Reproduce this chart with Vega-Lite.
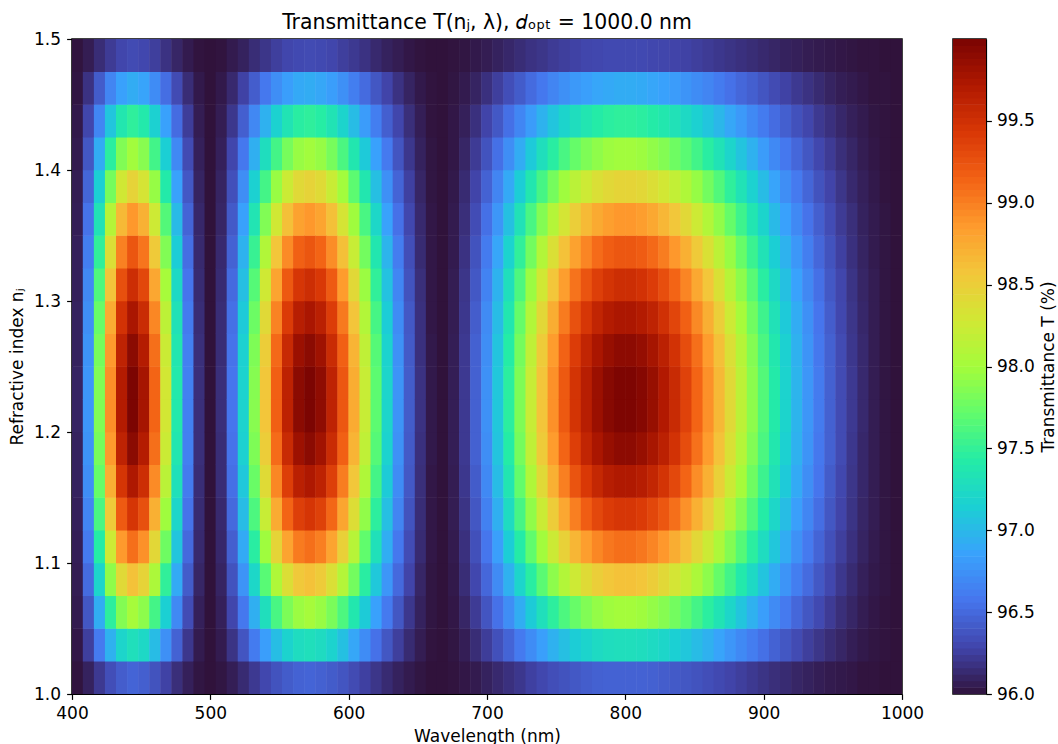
{"$schema":"https://vega.github.io/schema/vega-lite/v6.json","padding":{"left":7,"top":11,"right":0,"bottom":0},"background":"white","config":{"font":"DejaVu Sans","view":{"stroke":"black","strokeWidth":1.5},"axis":{"labelFont":"DejaVu Sans","titleFont":"DejaVu Sans","labelFontSize":17,"titleFontSize":17,"labelColor":"black","titleColor":"black","tickColor":"black","domainColor":"black","titleFontWeight":"normal","grid":false,"tickSize":5.4,"tickWidth":1.2,"domainWidth":1.2}},"spacing":27,"hconcat":[{"width":830,"height":655,"title":{"text":"Transmittance T(nⱼ, λ),  𝑑ₒₚₜ = 1000.0 nm","font":"DejaVu Sans","fontSize":20.4,"fontWeight":"normal","color":"black","anchor":"middle","offset":-3},"data":{"values":[
{"w":404,"n":1.0125,"t":96.01},{"w":404,"n":1.0375,"t":96.03},{"w":404,"n":1.0625,"t":96.05},{"w":404,"n":1.0875,"t":96.06},{"w":404,"n":1.1125,"t":96.07},{"w":404,"n":1.1375,"t":96.08},{"w":404,"n":1.1625,"t":96.09},{"w":404,"n":1.1875,"t":96.09},{"w":404,"n":1.2125,"t":96.1},{"w":404,"n":1.2375,"t":96.1},{"w":404,"n":1.2625,"t":96.09},{"w":404,"n":1.2875,"t":96.09},{"w":404,"n":1.3125,"t":96.08},{"w":404,"n":1.3375,"t":96.08},{"w":404,"n":1.3625,"t":96.07},{"w":404,"n":1.3875,"t":96.06},{"w":404,"n":1.4125,"t":96.05},{"w":404,"n":1.4375,"t":96.04},{"w":404,"n":1.4625,"t":96.02},{"w":404,"n":1.4875,"t":96.01},
{"w":412,"n":1.0125,"t":96.09},{"w":412,"n":1.0375,"t":96.25},{"w":412,"n":1.0625,"t":96.39},{"w":412,"n":1.0875,"t":96.51},{"w":412,"n":1.1125,"t":96.6},{"w":412,"n":1.1375,"t":96.67},{"w":412,"n":1.1625,"t":96.73},{"w":412,"n":1.1875,"t":96.76},{"w":412,"n":1.2125,"t":96.78},{"w":412,"n":1.2375,"t":96.78},{"w":412,"n":1.2625,"t":96.76},{"w":412,"n":1.2875,"t":96.73},{"w":412,"n":1.3125,"t":96.69},{"w":412,"n":1.3375,"t":96.63},{"w":412,"n":1.3625,"t":96.56},{"w":412,"n":1.3875,"t":96.48},{"w":412,"n":1.4125,"t":96.39},{"w":412,"n":1.4375,"t":96.29},{"w":412,"n":1.4625,"t":96.18},{"w":412,"n":1.4875,"t":96.06},
{"w":420,"n":1.0125,"t":96.22},{"w":420,"n":1.0375,"t":96.6},{"w":420,"n":1.0625,"t":96.93},{"w":420,"n":1.0875,"t":97.2},{"w":420,"n":1.1125,"t":97.43},{"w":420,"n":1.1375,"t":97.6},{"w":420,"n":1.1625,"t":97.73},{"w":420,"n":1.1875,"t":97.81},{"w":420,"n":1.2125,"t":97.85},{"w":420,"n":1.2375,"t":97.85},{"w":420,"n":1.2625,"t":97.81},{"w":420,"n":1.2875,"t":97.74},{"w":420,"n":1.3125,"t":97.63},{"w":420,"n":1.3375,"t":97.49},{"w":420,"n":1.3625,"t":97.33},{"w":420,"n":1.3875,"t":97.14},{"w":420,"n":1.4125,"t":96.92},{"w":420,"n":1.4375,"t":96.68},{"w":420,"n":1.4625,"t":96.42},{"w":420,"n":1.4875,"t":96.15},
{"w":428,"n":1.0125,"t":96.34},{"w":428,"n":1.0375,"t":96.95},{"w":428,"n":1.0625,"t":97.47},{"w":428,"n":1.0875,"t":97.91},{"w":428,"n":1.1125,"t":98.26},{"w":428,"n":1.1375,"t":98.53},{"w":428,"n":1.1625,"t":98.73},{"w":428,"n":1.1875,"t":98.86},{"w":428,"n":1.2125,"t":98.92},{"w":428,"n":1.2375,"t":98.92},{"w":428,"n":1.2625,"t":98.86},{"w":428,"n":1.2875,"t":98.75},{"w":428,"n":1.3125,"t":98.58},{"w":428,"n":1.3375,"t":98.37},{"w":428,"n":1.3625,"t":98.11},{"w":428,"n":1.3875,"t":97.8},{"w":428,"n":1.4125,"t":97.46},{"w":428,"n":1.4375,"t":97.08},{"w":428,"n":1.4625,"t":96.67},{"w":428,"n":1.4875,"t":96.23},
{"w":436,"n":1.0125,"t":96.43},{"w":436,"n":1.0375,"t":97.2},{"w":436,"n":1.0625,"t":97.86},{"w":436,"n":1.0875,"t":98.41},{"w":436,"n":1.1125,"t":98.86},{"w":436,"n":1.1375,"t":99.2},{"w":436,"n":1.1625,"t":99.46},{"w":436,"n":1.1875,"t":99.62},{"w":436,"n":1.2125,"t":99.7},{"w":436,"n":1.2375,"t":99.7},{"w":436,"n":1.2625,"t":99.62},{"w":436,"n":1.2875,"t":99.48},{"w":436,"n":1.3125,"t":99.27},{"w":436,"n":1.3375,"t":98.99},{"w":436,"n":1.3625,"t":98.66},{"w":436,"n":1.3875,"t":98.28},{"w":436,"n":1.4125,"t":97.85},{"w":436,"n":1.4375,"t":97.37},{"w":436,"n":1.4625,"t":96.85},{"w":436,"n":1.4875,"t":96.29},
{"w":444,"n":1.0125,"t":96.47},{"w":444,"n":1.0375,"t":97.3},{"w":444,"n":1.0625,"t":98.01},{"w":444,"n":1.0875,"t":98.6},{"w":444,"n":1.1125,"t":99.08},{"w":444,"n":1.1375,"t":99.46},{"w":444,"n":1.1625,"t":99.73},{"w":444,"n":1.1875,"t":99.91},{"w":444,"n":1.2125,"t":99.99},{"w":444,"n":1.2375,"t":99.99},{"w":444,"n":1.2625,"t":99.91},{"w":444,"n":1.2875,"t":99.75},{"w":444,"n":1.3125,"t":99.52},{"w":444,"n":1.3375,"t":99.23},{"w":444,"n":1.3625,"t":98.87},{"w":444,"n":1.3875,"t":98.46},{"w":444,"n":1.4125,"t":97.99},{"w":444,"n":1.4375,"t":97.48},{"w":444,"n":1.4625,"t":96.92},{"w":444,"n":1.4875,"t":96.32},
{"w":452,"n":1.0125,"t":96.44},{"w":452,"n":1.0375,"t":97.23},{"w":452,"n":1.0625,"t":97.9},{"w":452,"n":1.0875,"t":98.46},{"w":452,"n":1.1125,"t":98.91},{"w":452,"n":1.1375,"t":99.27},{"w":452,"n":1.1625,"t":99.52},{"w":452,"n":1.1875,"t":99.69},{"w":452,"n":1.2125,"t":99.77},{"w":452,"n":1.2375,"t":99.77},{"w":452,"n":1.2625,"t":99.69},{"w":452,"n":1.2875,"t":99.54},{"w":452,"n":1.3125,"t":99.33},{"w":452,"n":1.3375,"t":99.05},{"w":452,"n":1.3625,"t":98.71},{"w":452,"n":1.3875,"t":98.32},{"w":452,"n":1.4125,"t":97.88},{"w":452,"n":1.4375,"t":97.4},{"w":452,"n":1.4625,"t":96.87},{"w":452,"n":1.4875,"t":96.3},
{"w":460,"n":1.0125,"t":96.37},{"w":460,"n":1.0375,"t":97.02},{"w":460,"n":1.0625,"t":97.58},{"w":460,"n":1.0875,"t":98.05},{"w":460,"n":1.1125,"t":98.43},{"w":460,"n":1.1375,"t":98.72},{"w":460,"n":1.1625,"t":98.94},{"w":460,"n":1.1875,"t":99.08},{"w":460,"n":1.2125,"t":99.14},{"w":460,"n":1.2375,"t":99.14},{"w":460,"n":1.2625,"t":99.08},{"w":460,"n":1.2875,"t":98.96},{"w":460,"n":1.3125,"t":98.78},{"w":460,"n":1.3375,"t":98.54},{"w":460,"n":1.3625,"t":98.26},{"w":460,"n":1.3875,"t":97.94},{"w":460,"n":1.4125,"t":97.57},{"w":460,"n":1.4375,"t":97.16},{"w":460,"n":1.4625,"t":96.72},{"w":460,"n":1.4875,"t":96.25},
{"w":468,"n":1.0125,"t":96.27},{"w":468,"n":1.0375,"t":96.74},{"w":468,"n":1.0625,"t":97.15},{"w":468,"n":1.0875,"t":97.49},{"w":468,"n":1.1125,"t":97.77},{"w":468,"n":1.1375,"t":97.98},{"w":468,"n":1.1625,"t":98.14},{"w":468,"n":1.1875,"t":98.24},{"w":468,"n":1.2125,"t":98.29},{"w":468,"n":1.2375,"t":98.29},{"w":468,"n":1.2625,"t":98.24},{"w":468,"n":1.2875,"t":98.15},{"w":468,"n":1.3125,"t":98.02},{"w":468,"n":1.3375,"t":97.85},{"w":468,"n":1.3625,"t":97.65},{"w":468,"n":1.3875,"t":97.41},{"w":468,"n":1.4125,"t":97.14},{"w":468,"n":1.4375,"t":96.85},{"w":468,"n":1.4625,"t":96.53},{"w":468,"n":1.4875,"t":96.18},
{"w":476,"n":1.0125,"t":96.16},{"w":476,"n":1.0375,"t":96.46},{"w":476,"n":1.0625,"t":96.7},{"w":476,"n":1.0875,"t":96.91},{"w":476,"n":1.1125,"t":97.08},{"w":476,"n":1.1375,"t":97.21},{"w":476,"n":1.1625,"t":97.31},{"w":476,"n":1.1875,"t":97.37},{"w":476,"n":1.2125,"t":97.4},{"w":476,"n":1.2375,"t":97.4},{"w":476,"n":1.2625,"t":97.37},{"w":476,"n":1.2875,"t":97.32},{"w":476,"n":1.3125,"t":97.24},{"w":476,"n":1.3375,"t":97.13},{"w":476,"n":1.3625,"t":97.01},{"w":476,"n":1.3875,"t":96.86},{"w":476,"n":1.4125,"t":96.7},{"w":476,"n":1.4375,"t":96.52},{"w":476,"n":1.4625,"t":96.32},{"w":476,"n":1.4875,"t":96.11},
{"w":484,"n":1.0125,"t":96.08},{"w":484,"n":1.0375,"t":96.21},{"w":484,"n":1.0625,"t":96.33},{"w":484,"n":1.0875,"t":96.42},{"w":484,"n":1.1125,"t":96.5},{"w":484,"n":1.1375,"t":96.56},{"w":484,"n":1.1625,"t":96.61},{"w":484,"n":1.1875,"t":96.64},{"w":484,"n":1.2125,"t":96.65},{"w":484,"n":1.2375,"t":96.65},{"w":484,"n":1.2625,"t":96.64},{"w":484,"n":1.2875,"t":96.61},{"w":484,"n":1.3125,"t":96.57},{"w":484,"n":1.3375,"t":96.53},{"w":484,"n":1.3625,"t":96.47},{"w":484,"n":1.3875,"t":96.4},{"w":484,"n":1.4125,"t":96.32},{"w":484,"n":1.4375,"t":96.24},{"w":484,"n":1.4625,"t":96.15},{"w":484,"n":1.4875,"t":96.05},
{"w":492,"n":1.0125,"t":96.02},{"w":492,"n":1.0375,"t":96.05},{"w":492,"n":1.0625,"t":96.08},{"w":492,"n":1.0875,"t":96.11},{"w":492,"n":1.1125,"t":96.13},{"w":492,"n":1.1375,"t":96.14},{"w":492,"n":1.1625,"t":96.15},{"w":492,"n":1.1875,"t":96.16},{"w":492,"n":1.2125,"t":96.16},{"w":492,"n":1.2375,"t":96.16},{"w":492,"n":1.2625,"t":96.16},{"w":492,"n":1.2875,"t":96.15},{"w":492,"n":1.3125,"t":96.14},{"w":492,"n":1.3375,"t":96.13},{"w":492,"n":1.3625,"t":96.12},{"w":492,"n":1.3875,"t":96.1},{"w":492,"n":1.4125,"t":96.08},{"w":492,"n":1.4375,"t":96.06},{"w":492,"n":1.4625,"t":96.04},{"w":492,"n":1.4875,"t":96.01},
{"w":500,"n":1.0125,"t":96},{"w":500,"n":1.0375,"t":96},{"w":500,"n":1.0625,"t":96},{"w":500,"n":1.0875,"t":96},{"w":500,"n":1.1125,"t":96},{"w":500,"n":1.1375,"t":96},{"w":500,"n":1.1625,"t":96},{"w":500,"n":1.1875,"t":96},{"w":500,"n":1.2125,"t":96},{"w":500,"n":1.2375,"t":96},{"w":500,"n":1.2625,"t":96},{"w":500,"n":1.2875,"t":96},{"w":500,"n":1.3125,"t":96},{"w":500,"n":1.3375,"t":96},{"w":500,"n":1.3625,"t":96},{"w":500,"n":1.3875,"t":96},{"w":500,"n":1.4125,"t":96},{"w":500,"n":1.4375,"t":96},{"w":500,"n":1.4625,"t":96},{"w":500,"n":1.4875,"t":96},
{"w":508,"n":1.0125,"t":96.02},{"w":508,"n":1.0375,"t":96.05},{"w":508,"n":1.0625,"t":96.08},{"w":508,"n":1.0875,"t":96.1},{"w":508,"n":1.1125,"t":96.12},{"w":508,"n":1.1375,"t":96.13},{"w":508,"n":1.1625,"t":96.15},{"w":508,"n":1.1875,"t":96.15},{"w":508,"n":1.2125,"t":96.16},{"w":508,"n":1.2375,"t":96.16},{"w":508,"n":1.2625,"t":96.15},{"w":508,"n":1.2875,"t":96.15},{"w":508,"n":1.3125,"t":96.14},{"w":508,"n":1.3375,"t":96.13},{"w":508,"n":1.3625,"t":96.11},{"w":508,"n":1.3875,"t":96.1},{"w":508,"n":1.4125,"t":96.08},{"w":508,"n":1.4375,"t":96.06},{"w":508,"n":1.4625,"t":96.04},{"w":508,"n":1.4875,"t":96.01},
{"w":516,"n":1.0125,"t":96.07},{"w":516,"n":1.0375,"t":96.19},{"w":516,"n":1.0625,"t":96.29},{"w":516,"n":1.0875,"t":96.37},{"w":516,"n":1.1125,"t":96.44},{"w":516,"n":1.1375,"t":96.5},{"w":516,"n":1.1625,"t":96.54},{"w":516,"n":1.1875,"t":96.56},{"w":516,"n":1.2125,"t":96.57},{"w":516,"n":1.2375,"t":96.57},{"w":516,"n":1.2625,"t":96.56},{"w":516,"n":1.2875,"t":96.54},{"w":516,"n":1.3125,"t":96.51},{"w":516,"n":1.3375,"t":96.46},{"w":516,"n":1.3625,"t":96.41},{"w":516,"n":1.3875,"t":96.35},{"w":516,"n":1.4125,"t":96.29},{"w":516,"n":1.4375,"t":96.21},{"w":516,"n":1.4625,"t":96.13},{"w":516,"n":1.4875,"t":96.05},
{"w":524,"n":1.0125,"t":96.14},{"w":524,"n":1.0375,"t":96.38},{"w":524,"n":1.0625,"t":96.59},{"w":524,"n":1.0875,"t":96.77},{"w":524,"n":1.1125,"t":96.91},{"w":524,"n":1.1375,"t":97.02},{"w":524,"n":1.1625,"t":97.1},{"w":524,"n":1.1875,"t":97.16},{"w":524,"n":1.2125,"t":97.18},{"w":524,"n":1.2375,"t":97.18},{"w":524,"n":1.2625,"t":97.16},{"w":524,"n":1.2875,"t":97.11},{"w":524,"n":1.3125,"t":97.04},{"w":524,"n":1.3375,"t":96.96},{"w":524,"n":1.3625,"t":96.85},{"w":524,"n":1.3875,"t":96.73},{"w":524,"n":1.4125,"t":96.59},{"w":524,"n":1.4375,"t":96.44},{"w":524,"n":1.4625,"t":96.27},{"w":524,"n":1.4875,"t":96.09},
{"w":532,"n":1.0125,"t":96.22},{"w":532,"n":1.0375,"t":96.61},{"w":532,"n":1.0625,"t":96.94},{"w":532,"n":1.0875,"t":97.22},{"w":532,"n":1.1125,"t":97.45},{"w":532,"n":1.1375,"t":97.62},{"w":532,"n":1.1625,"t":97.75},{"w":532,"n":1.1875,"t":97.84},{"w":532,"n":1.2125,"t":97.88},{"w":532,"n":1.2375,"t":97.87},{"w":532,"n":1.2625,"t":97.84},{"w":532,"n":1.2875,"t":97.76},{"w":532,"n":1.3125,"t":97.66},{"w":532,"n":1.3375,"t":97.52},{"w":532,"n":1.3625,"t":97.35},{"w":532,"n":1.3875,"t":97.16},{"w":532,"n":1.4125,"t":96.94},{"w":532,"n":1.4375,"t":96.69},{"w":532,"n":1.4625,"t":96.43},{"w":532,"n":1.4875,"t":96.15},
{"w":540,"n":1.0125,"t":96.3},{"w":540,"n":1.0375,"t":96.83},{"w":540,"n":1.0625,"t":97.29},{"w":540,"n":1.0875,"t":97.67},{"w":540,"n":1.1125,"t":97.98},{"w":540,"n":1.1375,"t":98.22},{"w":540,"n":1.1625,"t":98.4},{"w":540,"n":1.1875,"t":98.51},{"w":540,"n":1.2125,"t":98.57},{"w":540,"n":1.2375,"t":98.56},{"w":540,"n":1.2625,"t":98.51},{"w":540,"n":1.2875,"t":98.41},{"w":540,"n":1.3125,"t":98.27},{"w":540,"n":1.3375,"t":98.08},{"w":540,"n":1.3625,"t":97.85},{"w":540,"n":1.3875,"t":97.58},{"w":540,"n":1.4125,"t":97.28},{"w":540,"n":1.4375,"t":96.95},{"w":540,"n":1.4625,"t":96.59},{"w":540,"n":1.4875,"t":96.2},
{"w":548,"n":1.0125,"t":96.37},{"w":548,"n":1.0375,"t":97.03},{"w":548,"n":1.0625,"t":97.6},{"w":548,"n":1.0875,"t":98.07},{"w":548,"n":1.1125,"t":98.45},{"w":548,"n":1.1375,"t":98.75},{"w":548,"n":1.1625,"t":98.96},{"w":548,"n":1.1875,"t":99.1},{"w":548,"n":1.2125,"t":99.17},{"w":548,"n":1.2375,"t":99.17},{"w":548,"n":1.2625,"t":99.11},{"w":548,"n":1.2875,"t":98.98},{"w":548,"n":1.3125,"t":98.8},{"w":548,"n":1.3375,"t":98.57},{"w":548,"n":1.3625,"t":98.28},{"w":548,"n":1.3875,"t":97.95},{"w":548,"n":1.4125,"t":97.58},{"w":548,"n":1.4375,"t":97.17},{"w":548,"n":1.4625,"t":96.73},{"w":548,"n":1.4875,"t":96.25},
{"w":556,"n":1.0125,"t":96.42},{"w":556,"n":1.0375,"t":97.18},{"w":556,"n":1.0625,"t":97.83},{"w":556,"n":1.0875,"t":98.37},{"w":556,"n":1.1125,"t":98.8},{"w":556,"n":1.1375,"t":99.14},{"w":556,"n":1.1625,"t":99.39},{"w":556,"n":1.1875,"t":99.55},{"w":556,"n":1.2125,"t":99.63},{"w":556,"n":1.2375,"t":99.63},{"w":556,"n":1.2625,"t":99.56},{"w":556,"n":1.2875,"t":99.41},{"w":556,"n":1.3125,"t":99.21},{"w":556,"n":1.3375,"t":98.94},{"w":556,"n":1.3625,"t":98.61},{"w":556,"n":1.3875,"t":98.24},{"w":556,"n":1.4125,"t":97.81},{"w":556,"n":1.4375,"t":97.34},{"w":556,"n":1.4625,"t":96.83},{"w":556,"n":1.4875,"t":96.29},
{"w":564,"n":1.0125,"t":96.46},{"w":564,"n":1.0375,"t":97.27},{"w":564,"n":1.0625,"t":97.96},{"w":564,"n":1.0875,"t":98.55},{"w":564,"n":1.1125,"t":99.02},{"w":564,"n":1.1375,"t":99.38},{"w":564,"n":1.1625,"t":99.65},{"w":564,"n":1.1875,"t":99.82},{"w":564,"n":1.2125,"t":99.91},{"w":564,"n":1.2375,"t":99.91},{"w":564,"n":1.2625,"t":99.83},{"w":564,"n":1.2875,"t":99.67},{"w":564,"n":1.3125,"t":99.45},{"w":564,"n":1.3375,"t":99.16},{"w":564,"n":1.3625,"t":98.81},{"w":564,"n":1.3875,"t":98.41},{"w":564,"n":1.4125,"t":97.95},{"w":564,"n":1.4375,"t":97.45},{"w":564,"n":1.4625,"t":96.9},{"w":564,"n":1.4875,"t":96.31},
{"w":572,"n":1.0125,"t":96.47},{"w":572,"n":1.0375,"t":97.3},{"w":572,"n":1.0625,"t":98.01},{"w":572,"n":1.0875,"t":98.6},{"w":572,"n":1.1125,"t":99.08},{"w":572,"n":1.1375,"t":99.46},{"w":572,"n":1.1625,"t":99.73},{"w":572,"n":1.1875,"t":99.91},{"w":572,"n":1.2125,"t":99.99},{"w":572,"n":1.2375,"t":99.99},{"w":572,"n":1.2625,"t":99.91},{"w":572,"n":1.2875,"t":99.75},{"w":572,"n":1.3125,"t":99.52},{"w":572,"n":1.3375,"t":99.23},{"w":572,"n":1.3625,"t":98.87},{"w":572,"n":1.3875,"t":98.46},{"w":572,"n":1.4125,"t":97.99},{"w":572,"n":1.4375,"t":97.48},{"w":572,"n":1.4625,"t":96.92},{"w":572,"n":1.4875,"t":96.32},
{"w":580,"n":1.0125,"t":96.45},{"w":580,"n":1.0375,"t":97.26},{"w":580,"n":1.0625,"t":97.95},{"w":580,"n":1.0875,"t":98.53},{"w":580,"n":1.1125,"t":99},{"w":580,"n":1.1375,"t":99.37},{"w":580,"n":1.1625,"t":99.63},{"w":580,"n":1.1875,"t":99.8},{"w":580,"n":1.2125,"t":99.89},{"w":580,"n":1.2375,"t":99.89},{"w":580,"n":1.2625,"t":99.81},{"w":580,"n":1.2875,"t":99.65},{"w":580,"n":1.3125,"t":99.43},{"w":580,"n":1.3375,"t":99.14},{"w":580,"n":1.3625,"t":98.8},{"w":580,"n":1.3875,"t":98.4},{"w":580,"n":1.4125,"t":97.94},{"w":580,"n":1.4375,"t":97.44},{"w":580,"n":1.4625,"t":96.89},{"w":580,"n":1.4875,"t":96.31},
{"w":588,"n":1.0125,"t":96.42},{"w":588,"n":1.0375,"t":97.18},{"w":588,"n":1.0625,"t":97.82},{"w":588,"n":1.0875,"t":98.36},{"w":588,"n":1.1125,"t":98.8},{"w":588,"n":1.1375,"t":99.13},{"w":588,"n":1.1625,"t":99.38},{"w":588,"n":1.1875,"t":99.54},{"w":588,"n":1.2125,"t":99.62},{"w":588,"n":1.2375,"t":99.62},{"w":588,"n":1.2625,"t":99.54},{"w":588,"n":1.2875,"t":99.4},{"w":588,"n":1.3125,"t":99.2},{"w":588,"n":1.3375,"t":98.93},{"w":588,"n":1.3625,"t":98.61},{"w":588,"n":1.3875,"t":98.23},{"w":588,"n":1.4125,"t":97.81},{"w":588,"n":1.4375,"t":97.34},{"w":588,"n":1.4625,"t":96.83},{"w":588,"n":1.4875,"t":96.29},
{"w":596,"n":1.0125,"t":96.38},{"w":596,"n":1.0375,"t":97.05},{"w":596,"n":1.0625,"t":97.62},{"w":596,"n":1.0875,"t":98.1},{"w":596,"n":1.1125,"t":98.49},{"w":596,"n":1.1375,"t":98.79},{"w":596,"n":1.1625,"t":99.01},{"w":596,"n":1.1875,"t":99.16},{"w":596,"n":1.2125,"t":99.22},{"w":596,"n":1.2375,"t":99.22},{"w":596,"n":1.2625,"t":99.16},{"w":596,"n":1.2875,"t":99.03},{"w":596,"n":1.3125,"t":98.85},{"w":596,"n":1.3375,"t":98.61},{"w":596,"n":1.3625,"t":98.32},{"w":596,"n":1.3875,"t":97.99},{"w":596,"n":1.4125,"t":97.61},{"w":596,"n":1.4375,"t":97.19},{"w":596,"n":1.4625,"t":96.74},{"w":596,"n":1.4875,"t":96.25},
{"w":604,"n":1.0125,"t":96.32},{"w":604,"n":1.0375,"t":96.89},{"w":604,"n":1.0625,"t":97.38},{"w":604,"n":1.0875,"t":97.79},{"w":604,"n":1.1125,"t":98.12},{"w":604,"n":1.1375,"t":98.38},{"w":604,"n":1.1625,"t":98.56},{"w":604,"n":1.1875,"t":98.69},{"w":604,"n":1.2125,"t":98.75},{"w":604,"n":1.2375,"t":98.74},{"w":604,"n":1.2625,"t":98.69},{"w":604,"n":1.2875,"t":98.58},{"w":604,"n":1.3125,"t":98.42},{"w":604,"n":1.3375,"t":98.22},{"w":604,"n":1.3625,"t":97.98},{"w":604,"n":1.3875,"t":97.69},{"w":604,"n":1.4125,"t":97.37},{"w":604,"n":1.4375,"t":97.02},{"w":604,"n":1.4625,"t":96.63},{"w":604,"n":1.4875,"t":96.22},
{"w":612,"n":1.0125,"t":96.26},{"w":612,"n":1.0375,"t":96.72},{"w":612,"n":1.0625,"t":97.12},{"w":612,"n":1.0875,"t":97.45},{"w":612,"n":1.1125,"t":97.71},{"w":612,"n":1.1375,"t":97.92},{"w":612,"n":1.1625,"t":98.07},{"w":612,"n":1.1875,"t":98.17},{"w":612,"n":1.2125,"t":98.22},{"w":612,"n":1.2375,"t":98.22},{"w":612,"n":1.2625,"t":98.17},{"w":612,"n":1.2875,"t":98.09},{"w":612,"n":1.3125,"t":97.96},{"w":612,"n":1.3375,"t":97.79},{"w":612,"n":1.3625,"t":97.6},{"w":612,"n":1.3875,"t":97.37},{"w":612,"n":1.4125,"t":97.11},{"w":612,"n":1.4375,"t":96.82},{"w":612,"n":1.4625,"t":96.51},{"w":612,"n":1.4875,"t":96.18},
{"w":620,"n":1.0125,"t":96.2},{"w":620,"n":1.0375,"t":96.55},{"w":620,"n":1.0625,"t":96.85},{"w":620,"n":1.0875,"t":97.1},{"w":620,"n":1.1125,"t":97.31},{"w":620,"n":1.1375,"t":97.47},{"w":620,"n":1.1625,"t":97.58},{"w":620,"n":1.1875,"t":97.66},{"w":620,"n":1.2125,"t":97.69},{"w":620,"n":1.2375,"t":97.69},{"w":620,"n":1.2625,"t":97.66},{"w":620,"n":1.2875,"t":97.59},{"w":620,"n":1.3125,"t":97.49},{"w":620,"n":1.3375,"t":97.37},{"w":620,"n":1.3625,"t":97.22},{"w":620,"n":1.3875,"t":97.04},{"w":620,"n":1.4125,"t":96.85},{"w":620,"n":1.4375,"t":96.63},{"w":620,"n":1.4625,"t":96.39},{"w":620,"n":1.4875,"t":96.13},
{"w":628,"n":1.0125,"t":96.14},{"w":628,"n":1.0375,"t":96.39},{"w":628,"n":1.0625,"t":96.6},{"w":628,"n":1.0875,"t":96.78},{"w":628,"n":1.1125,"t":96.93},{"w":628,"n":1.1375,"t":97.04},{"w":628,"n":1.1625,"t":97.12},{"w":628,"n":1.1875,"t":97.18},{"w":628,"n":1.2125,"t":97.2},{"w":628,"n":1.2375,"t":97.2},{"w":628,"n":1.2625,"t":97.18},{"w":628,"n":1.2875,"t":97.13},{"w":628,"n":1.3125,"t":97.06},{"w":628,"n":1.3375,"t":96.97},{"w":628,"n":1.3625,"t":96.86},{"w":628,"n":1.3875,"t":96.74},{"w":628,"n":1.4125,"t":96.6},{"w":628,"n":1.4375,"t":96.44},{"w":628,"n":1.4625,"t":96.28},{"w":628,"n":1.4875,"t":96.09},
{"w":636,"n":1.0125,"t":96.09},{"w":636,"n":1.0375,"t":96.25},{"w":636,"n":1.0625,"t":96.39},{"w":636,"n":1.0875,"t":96.5},{"w":636,"n":1.1125,"t":96.59},{"w":636,"n":1.1375,"t":96.67},{"w":636,"n":1.1625,"t":96.72},{"w":636,"n":1.1875,"t":96.75},{"w":636,"n":1.2125,"t":96.77},{"w":636,"n":1.2375,"t":96.77},{"w":636,"n":1.2625,"t":96.75},{"w":636,"n":1.2875,"t":96.72},{"w":636,"n":1.3125,"t":96.68},{"w":636,"n":1.3375,"t":96.62},{"w":636,"n":1.3625,"t":96.55},{"w":636,"n":1.3875,"t":96.47},{"w":636,"n":1.4125,"t":96.38},{"w":636,"n":1.4375,"t":96.29},{"w":636,"n":1.4625,"t":96.18},{"w":636,"n":1.4875,"t":96.06},
{"w":644,"n":1.0125,"t":96.05},{"w":644,"n":1.0375,"t":96.14},{"w":644,"n":1.0625,"t":96.21},{"w":644,"n":1.0875,"t":96.28},{"w":644,"n":1.1125,"t":96.33},{"w":644,"n":1.1375,"t":96.37},{"w":644,"n":1.1625,"t":96.4},{"w":644,"n":1.1875,"t":96.41},{"w":644,"n":1.2125,"t":96.42},{"w":644,"n":1.2375,"t":96.42},{"w":644,"n":1.2625,"t":96.41},{"w":644,"n":1.2875,"t":96.4},{"w":644,"n":1.3125,"t":96.37},{"w":644,"n":1.3375,"t":96.34},{"w":644,"n":1.3625,"t":96.3},{"w":644,"n":1.3875,"t":96.26},{"w":644,"n":1.4125,"t":96.21},{"w":644,"n":1.4375,"t":96.16},{"w":644,"n":1.4625,"t":96.1},{"w":644,"n":1.4875,"t":96.03},
{"w":652,"n":1.0125,"t":96.02},{"w":652,"n":1.0375,"t":96.06},{"w":652,"n":1.0625,"t":96.09},{"w":652,"n":1.0875,"t":96.11},{"w":652,"n":1.1125,"t":96.14},{"w":652,"n":1.1375,"t":96.15},{"w":652,"n":1.1625,"t":96.16},{"w":652,"n":1.1875,"t":96.17},{"w":652,"n":1.2125,"t":96.18},{"w":652,"n":1.2375,"t":96.18},{"w":652,"n":1.2625,"t":96.17},{"w":652,"n":1.2875,"t":96.17},{"w":652,"n":1.3125,"t":96.16},{"w":652,"n":1.3375,"t":96.14},{"w":652,"n":1.3625,"t":96.13},{"w":652,"n":1.3875,"t":96.11},{"w":652,"n":1.4125,"t":96.09},{"w":652,"n":1.4375,"t":96.07},{"w":652,"n":1.4625,"t":96.04},{"w":652,"n":1.4875,"t":96.01},
{"w":660,"n":1.0125,"t":96},{"w":660,"n":1.0375,"t":96.01},{"w":660,"n":1.0625,"t":96.02},{"w":660,"n":1.0875,"t":96.02},{"w":660,"n":1.1125,"t":96.03},{"w":660,"n":1.1375,"t":96.03},{"w":660,"n":1.1625,"t":96.03},{"w":660,"n":1.1875,"t":96.04},{"w":660,"n":1.2125,"t":96.04},{"w":660,"n":1.2375,"t":96.04},{"w":660,"n":1.2625,"t":96.04},{"w":660,"n":1.2875,"t":96.03},{"w":660,"n":1.3125,"t":96.03},{"w":660,"n":1.3375,"t":96.03},{"w":660,"n":1.3625,"t":96.03},{"w":660,"n":1.3875,"t":96.02},{"w":660,"n":1.4125,"t":96.02},{"w":660,"n":1.4375,"t":96.01},{"w":660,"n":1.4625,"t":96.01},{"w":660,"n":1.4875,"t":96},
{"w":668,"n":1.0125,"t":96},{"w":668,"n":1.0375,"t":96},{"w":668,"n":1.0625,"t":96},{"w":668,"n":1.0875,"t":96},{"w":668,"n":1.1125,"t":96},{"w":668,"n":1.1375,"t":96},{"w":668,"n":1.1625,"t":96},{"w":668,"n":1.1875,"t":96},{"w":668,"n":1.2125,"t":96},{"w":668,"n":1.2375,"t":96},{"w":668,"n":1.2625,"t":96},{"w":668,"n":1.2875,"t":96},{"w":668,"n":1.3125,"t":96},{"w":668,"n":1.3375,"t":96},{"w":668,"n":1.3625,"t":96},{"w":668,"n":1.3875,"t":96},{"w":668,"n":1.4125,"t":96},{"w":668,"n":1.4375,"t":96},{"w":668,"n":1.4625,"t":96},{"w":668,"n":1.4875,"t":96},
{"w":676,"n":1.0125,"t":96.01},{"w":676,"n":1.0375,"t":96.02},{"w":676,"n":1.0625,"t":96.03},{"w":676,"n":1.0875,"t":96.04},{"w":676,"n":1.1125,"t":96.05},{"w":676,"n":1.1375,"t":96.06},{"w":676,"n":1.1625,"t":96.06},{"w":676,"n":1.1875,"t":96.07},{"w":676,"n":1.2125,"t":96.07},{"w":676,"n":1.2375,"t":96.07},{"w":676,"n":1.2625,"t":96.07},{"w":676,"n":1.2875,"t":96.06},{"w":676,"n":1.3125,"t":96.06},{"w":676,"n":1.3375,"t":96.05},{"w":676,"n":1.3625,"t":96.05},{"w":676,"n":1.3875,"t":96.04},{"w":676,"n":1.4125,"t":96.03},{"w":676,"n":1.4375,"t":96.03},{"w":676,"n":1.4625,"t":96.02},{"w":676,"n":1.4875,"t":96.01},
{"w":684,"n":1.0125,"t":96.03},{"w":684,"n":1.0375,"t":96.07},{"w":684,"n":1.0625,"t":96.11},{"w":684,"n":1.0875,"t":96.15},{"w":684,"n":1.1125,"t":96.17},{"w":684,"n":1.1375,"t":96.19},{"w":684,"n":1.1625,"t":96.21},{"w":684,"n":1.1875,"t":96.22},{"w":684,"n":1.2125,"t":96.22},{"w":684,"n":1.2375,"t":96.22},{"w":684,"n":1.2625,"t":96.22},{"w":684,"n":1.2875,"t":96.21},{"w":684,"n":1.3125,"t":96.2},{"w":684,"n":1.3375,"t":96.18},{"w":684,"n":1.3625,"t":96.16},{"w":684,"n":1.3875,"t":96.14},{"w":684,"n":1.4125,"t":96.11},{"w":684,"n":1.4375,"t":96.08},{"w":684,"n":1.4625,"t":96.05},{"w":684,"n":1.4875,"t":96.02},
{"w":692,"n":1.0125,"t":96.05},{"w":692,"n":1.0375,"t":96.15},{"w":692,"n":1.0625,"t":96.23},{"w":692,"n":1.0875,"t":96.3},{"w":692,"n":1.1125,"t":96.35},{"w":692,"n":1.1375,"t":96.39},{"w":692,"n":1.1625,"t":96.42},{"w":692,"n":1.1875,"t":96.45},{"w":692,"n":1.2125,"t":96.45},{"w":692,"n":1.2375,"t":96.45},{"w":692,"n":1.2625,"t":96.45},{"w":692,"n":1.2875,"t":96.43},{"w":692,"n":1.3125,"t":96.4},{"w":692,"n":1.3375,"t":96.37},{"w":692,"n":1.3625,"t":96.33},{"w":692,"n":1.3875,"t":96.28},{"w":692,"n":1.4125,"t":96.23},{"w":692,"n":1.4375,"t":96.17},{"w":692,"n":1.4625,"t":96.1},{"w":692,"n":1.4875,"t":96.04},
{"w":700,"n":1.0125,"t":96.09},{"w":700,"n":1.0375,"t":96.24},{"w":700,"n":1.0625,"t":96.38},{"w":700,"n":1.0875,"t":96.49},{"w":700,"n":1.1125,"t":96.58},{"w":700,"n":1.1375,"t":96.65},{"w":700,"n":1.1625,"t":96.7},{"w":700,"n":1.1875,"t":96.73},{"w":700,"n":1.2125,"t":96.75},{"w":700,"n":1.2375,"t":96.75},{"w":700,"n":1.2625,"t":96.73},{"w":700,"n":1.2875,"t":96.71},{"w":700,"n":1.3125,"t":96.66},{"w":700,"n":1.3375,"t":96.61},{"w":700,"n":1.3625,"t":96.54},{"w":700,"n":1.3875,"t":96.46},{"w":700,"n":1.4125,"t":96.37},{"w":700,"n":1.4375,"t":96.28},{"w":700,"n":1.4625,"t":96.17},{"w":700,"n":1.4875,"t":96.06},
{"w":708,"n":1.0125,"t":96.13},{"w":708,"n":1.0375,"t":96.35},{"w":708,"n":1.0625,"t":96.55},{"w":708,"n":1.0875,"t":96.71},{"w":708,"n":1.1125,"t":96.84},{"w":708,"n":1.1375,"t":96.94},{"w":708,"n":1.1625,"t":97.02},{"w":708,"n":1.1875,"t":97.07},{"w":708,"n":1.2125,"t":97.09},{"w":708,"n":1.2375,"t":97.09},{"w":708,"n":1.2625,"t":97.07},{"w":708,"n":1.2875,"t":97.02},{"w":708,"n":1.3125,"t":96.96},{"w":708,"n":1.3375,"t":96.88},{"w":708,"n":1.3625,"t":96.78},{"w":708,"n":1.3875,"t":96.67},{"w":708,"n":1.4125,"t":96.54},{"w":708,"n":1.4375,"t":96.4},{"w":708,"n":1.4625,"t":96.25},{"w":708,"n":1.4875,"t":96.09},
{"w":716,"n":1.0125,"t":96.17},{"w":716,"n":1.0375,"t":96.47},{"w":716,"n":1.0625,"t":96.73},{"w":716,"n":1.0875,"t":96.95},{"w":716,"n":1.1125,"t":97.13},{"w":716,"n":1.1375,"t":97.26},{"w":716,"n":1.1625,"t":97.36},{"w":716,"n":1.1875,"t":97.43},{"w":716,"n":1.2125,"t":97.46},{"w":716,"n":1.2375,"t":97.46},{"w":716,"n":1.2625,"t":97.43},{"w":716,"n":1.2875,"t":97.37},{"w":716,"n":1.3125,"t":97.29},{"w":716,"n":1.3375,"t":97.18},{"w":716,"n":1.3625,"t":97.05},{"w":716,"n":1.3875,"t":96.9},{"w":716,"n":1.4125,"t":96.73},{"w":716,"n":1.4375,"t":96.54},{"w":716,"n":1.4625,"t":96.34},{"w":716,"n":1.4875,"t":96.12},
{"w":724,"n":1.0125,"t":96.21},{"w":724,"n":1.0375,"t":96.6},{"w":724,"n":1.0625,"t":96.93},{"w":724,"n":1.0875,"t":97.2},{"w":724,"n":1.1125,"t":97.42},{"w":724,"n":1.1375,"t":97.59},{"w":724,"n":1.1625,"t":97.72},{"w":724,"n":1.1875,"t":97.8},{"w":724,"n":1.2125,"t":97.84},{"w":724,"n":1.2375,"t":97.84},{"w":724,"n":1.2625,"t":97.8},{"w":724,"n":1.2875,"t":97.73},{"w":724,"n":1.3125,"t":97.62},{"w":724,"n":1.3375,"t":97.49},{"w":724,"n":1.3625,"t":97.32},{"w":724,"n":1.3875,"t":97.13},{"w":724,"n":1.4125,"t":96.92},{"w":724,"n":1.4375,"t":96.68},{"w":724,"n":1.4625,"t":96.42},{"w":724,"n":1.4875,"t":96.15},
{"w":732,"n":1.0125,"t":96.26},{"w":732,"n":1.0375,"t":96.72},{"w":732,"n":1.0625,"t":97.12},{"w":732,"n":1.0875,"t":97.45},{"w":732,"n":1.1125,"t":97.71},{"w":732,"n":1.1375,"t":97.92},{"w":732,"n":1.1625,"t":98.07},{"w":732,"n":1.1875,"t":98.17},{"w":732,"n":1.2125,"t":98.22},{"w":732,"n":1.2375,"t":98.22},{"w":732,"n":1.2625,"t":98.17},{"w":732,"n":1.2875,"t":98.09},{"w":732,"n":1.3125,"t":97.96},{"w":732,"n":1.3375,"t":97.79},{"w":732,"n":1.3625,"t":97.6},{"w":732,"n":1.3875,"t":97.37},{"w":732,"n":1.4125,"t":97.11},{"w":732,"n":1.4375,"t":96.82},{"w":732,"n":1.4625,"t":96.51},{"w":732,"n":1.4875,"t":96.18},
{"w":740,"n":1.0125,"t":96.3},{"w":740,"n":1.0375,"t":96.84},{"w":740,"n":1.0625,"t":97.3},{"w":740,"n":1.0875,"t":97.68},{"w":740,"n":1.1125,"t":97.99},{"w":740,"n":1.1375,"t":98.24},{"w":740,"n":1.1625,"t":98.41},{"w":740,"n":1.1875,"t":98.53},{"w":740,"n":1.2125,"t":98.58},{"w":740,"n":1.2375,"t":98.58},{"w":740,"n":1.2625,"t":98.53},{"w":740,"n":1.2875,"t":98.43},{"w":740,"n":1.3125,"t":98.28},{"w":740,"n":1.3375,"t":98.09},{"w":740,"n":1.3625,"t":97.86},{"w":740,"n":1.3875,"t":97.59},{"w":740,"n":1.4125,"t":97.29},{"w":740,"n":1.4375,"t":96.96},{"w":740,"n":1.4625,"t":96.59},{"w":740,"n":1.4875,"t":96.2},
{"w":748,"n":1.0125,"t":96.34},{"w":748,"n":1.0375,"t":96.95},{"w":748,"n":1.0625,"t":97.47},{"w":748,"n":1.0875,"t":97.9},{"w":748,"n":1.1125,"t":98.25},{"w":748,"n":1.1375,"t":98.52},{"w":748,"n":1.1625,"t":98.72},{"w":748,"n":1.1875,"t":98.85},{"w":748,"n":1.2125,"t":98.91},{"w":748,"n":1.2375,"t":98.91},{"w":748,"n":1.2625,"t":98.85},{"w":748,"n":1.2875,"t":98.74},{"w":748,"n":1.3125,"t":98.57},{"w":748,"n":1.3375,"t":98.36},{"w":748,"n":1.3625,"t":98.1},{"w":748,"n":1.3875,"t":97.8},{"w":748,"n":1.4125,"t":97.45},{"w":748,"n":1.4375,"t":97.08},{"w":748,"n":1.4625,"t":96.67},{"w":748,"n":1.4875,"t":96.23},
{"w":756,"n":1.0125,"t":96.37},{"w":756,"n":1.0375,"t":97.04},{"w":756,"n":1.0625,"t":97.62},{"w":756,"n":1.0875,"t":98.09},{"w":756,"n":1.1125,"t":98.48},{"w":756,"n":1.1375,"t":98.78},{"w":756,"n":1.1625,"t":99},{"w":756,"n":1.1875,"t":99.14},{"w":756,"n":1.2125,"t":99.21},{"w":756,"n":1.2375,"t":99.21},{"w":756,"n":1.2625,"t":99.15},{"w":756,"n":1.2875,"t":99.02},{"w":756,"n":1.3125,"t":98.84},{"w":756,"n":1.3375,"t":98.6},{"w":756,"n":1.3625,"t":98.31},{"w":756,"n":1.3875,"t":97.98},{"w":756,"n":1.4125,"t":97.6},{"w":756,"n":1.4375,"t":97.19},{"w":756,"n":1.4625,"t":96.74},{"w":756,"n":1.4875,"t":96.25},
{"w":764,"n":1.0125,"t":96.4},{"w":764,"n":1.0375,"t":97.13},{"w":764,"n":1.0625,"t":97.74},{"w":764,"n":1.0875,"t":98.26},{"w":764,"n":1.1125,"t":98.68},{"w":764,"n":1.1375,"t":99},{"w":764,"n":1.1625,"t":99.24},{"w":764,"n":1.1875,"t":99.39},{"w":764,"n":1.2125,"t":99.47},{"w":764,"n":1.2375,"t":99.47},{"w":764,"n":1.2625,"t":99.4},{"w":764,"n":1.2875,"t":99.26},{"w":764,"n":1.3125,"t":99.06},{"w":764,"n":1.3375,"t":98.81},{"w":764,"n":1.3625,"t":98.5},{"w":764,"n":1.3875,"t":98.14},{"w":764,"n":1.4125,"t":97.73},{"w":764,"n":1.4375,"t":97.28},{"w":764,"n":1.4625,"t":96.8},{"w":764,"n":1.4875,"t":96.27},
{"w":772,"n":1.0125,"t":96.43},{"w":772,"n":1.0375,"t":97.19},{"w":772,"n":1.0625,"t":97.85},{"w":772,"n":1.0875,"t":98.4},{"w":772,"n":1.1125,"t":98.84},{"w":772,"n":1.1375,"t":99.18},{"w":772,"n":1.1625,"t":99.43},{"w":772,"n":1.1875,"t":99.6},{"w":772,"n":1.2125,"t":99.67},{"w":772,"n":1.2375,"t":99.67},{"w":772,"n":1.2625,"t":99.6},{"w":772,"n":1.2875,"t":99.45},{"w":772,"n":1.3125,"t":99.24},{"w":772,"n":1.3375,"t":98.97},{"w":772,"n":1.3625,"t":98.65},{"w":772,"n":1.3875,"t":98.26},{"w":772,"n":1.4125,"t":97.84},{"w":772,"n":1.4375,"t":97.36},{"w":772,"n":1.4625,"t":96.84},{"w":772,"n":1.4875,"t":96.29},
{"w":780,"n":1.0125,"t":96.45},{"w":780,"n":1.0375,"t":97.25},{"w":780,"n":1.0625,"t":97.93},{"w":780,"n":1.0875,"t":98.5},{"w":780,"n":1.1125,"t":98.96},{"w":780,"n":1.1375,"t":99.32},{"w":780,"n":1.1625,"t":99.58},{"w":780,"n":1.1875,"t":99.75},{"w":780,"n":1.2125,"t":99.83},{"w":780,"n":1.2375,"t":99.83},{"w":780,"n":1.2625,"t":99.75},{"w":780,"n":1.2875,"t":99.6},{"w":780,"n":1.3125,"t":99.38},{"w":780,"n":1.3375,"t":99.1},{"w":780,"n":1.3625,"t":98.76},{"w":780,"n":1.3875,"t":98.36},{"w":780,"n":1.4125,"t":97.91},{"w":780,"n":1.4375,"t":97.42},{"w":780,"n":1.4625,"t":96.88},{"w":780,"n":1.4875,"t":96.3},
{"w":788,"n":1.0125,"t":96.46},{"w":788,"n":1.0375,"t":97.28},{"w":788,"n":1.0625,"t":97.98},{"w":788,"n":1.0875,"t":98.56},{"w":788,"n":1.1125,"t":99.04},{"w":788,"n":1.1375,"t":99.41},{"w":788,"n":1.1625,"t":99.68},{"w":788,"n":1.1875,"t":99.85},{"w":788,"n":1.2125,"t":99.93},{"w":788,"n":1.2375,"t":99.93},{"w":788,"n":1.2625,"t":99.85},{"w":788,"n":1.2875,"t":99.7},{"w":788,"n":1.3125,"t":99.47},{"w":788,"n":1.3375,"t":99.18},{"w":788,"n":1.3625,"t":98.83},{"w":788,"n":1.3875,"t":98.42},{"w":788,"n":1.4125,"t":97.97},{"w":788,"n":1.4375,"t":97.46},{"w":788,"n":1.4625,"t":96.9},{"w":788,"n":1.4875,"t":96.31},
{"w":796,"n":1.0125,"t":96.46},{"w":796,"n":1.0375,"t":97.29},{"w":796,"n":1.0625,"t":98},{"w":796,"n":1.0875,"t":98.6},{"w":796,"n":1.1125,"t":99.08},{"w":796,"n":1.1375,"t":99.45},{"w":796,"n":1.1625,"t":99.72},{"w":796,"n":1.1875,"t":99.9},{"w":796,"n":1.2125,"t":99.98},{"w":796,"n":1.2375,"t":99.98},{"w":796,"n":1.2625,"t":99.9},{"w":796,"n":1.2875,"t":99.74},{"w":796,"n":1.3125,"t":99.52},{"w":796,"n":1.3375,"t":99.22},{"w":796,"n":1.3625,"t":98.87},{"w":796,"n":1.3875,"t":98.45},{"w":796,"n":1.4125,"t":97.99},{"w":796,"n":1.4375,"t":97.48},{"w":796,"n":1.4625,"t":96.92},{"w":796,"n":1.4875,"t":96.31},
{"w":804,"n":1.0125,"t":96.46},{"w":804,"n":1.0375,"t":97.29},{"w":804,"n":1.0625,"t":98},{"w":804,"n":1.0875,"t":98.6},{"w":804,"n":1.1125,"t":99.08},{"w":804,"n":1.1375,"t":99.45},{"w":804,"n":1.1625,"t":99.72},{"w":804,"n":1.1875,"t":99.9},{"w":804,"n":1.2125,"t":99.98},{"w":804,"n":1.2375,"t":99.98},{"w":804,"n":1.2625,"t":99.9},{"w":804,"n":1.2875,"t":99.74},{"w":804,"n":1.3125,"t":99.52},{"w":804,"n":1.3375,"t":99.22},{"w":804,"n":1.3625,"t":98.87},{"w":804,"n":1.3875,"t":98.45},{"w":804,"n":1.4125,"t":97.99},{"w":804,"n":1.4375,"t":97.48},{"w":804,"n":1.4625,"t":96.92},{"w":804,"n":1.4875,"t":96.31},
{"w":812,"n":1.0125,"t":96.46},{"w":812,"n":1.0375,"t":97.28},{"w":812,"n":1.0625,"t":97.98},{"w":812,"n":1.0875,"t":98.57},{"w":812,"n":1.1125,"t":99.04},{"w":812,"n":1.1375,"t":99.41},{"w":812,"n":1.1625,"t":99.68},{"w":812,"n":1.1875,"t":99.85},{"w":812,"n":1.2125,"t":99.94},{"w":812,"n":1.2375,"t":99.94},{"w":812,"n":1.2625,"t":99.86},{"w":812,"n":1.2875,"t":99.7},{"w":812,"n":1.3125,"t":99.48},{"w":812,"n":1.3375,"t":99.19},{"w":812,"n":1.3625,"t":98.84},{"w":812,"n":1.3875,"t":98.43},{"w":812,"n":1.4125,"t":97.97},{"w":812,"n":1.4375,"t":97.46},{"w":812,"n":1.4625,"t":96.91},{"w":812,"n":1.4875,"t":96.31},
{"w":820,"n":1.0125,"t":96.45},{"w":820,"n":1.0375,"t":97.25},{"w":820,"n":1.0625,"t":97.93},{"w":820,"n":1.0875,"t":98.51},{"w":820,"n":1.1125,"t":98.97},{"w":820,"n":1.1375,"t":99.33},{"w":820,"n":1.1625,"t":99.59},{"w":820,"n":1.1875,"t":99.76},{"w":820,"n":1.2125,"t":99.85},{"w":820,"n":1.2375,"t":99.85},{"w":820,"n":1.2625,"t":99.77},{"w":820,"n":1.2875,"t":99.62},{"w":820,"n":1.3125,"t":99.4},{"w":820,"n":1.3375,"t":99.11},{"w":820,"n":1.3625,"t":98.77},{"w":820,"n":1.3875,"t":98.37},{"w":820,"n":1.4125,"t":97.92},{"w":820,"n":1.4375,"t":97.42},{"w":820,"n":1.4625,"t":96.88},{"w":820,"n":1.4875,"t":96.3},
{"w":828,"n":1.0125,"t":96.43},{"w":828,"n":1.0375,"t":97.21},{"w":828,"n":1.0625,"t":97.87},{"w":828,"n":1.0875,"t":98.42},{"w":828,"n":1.1125,"t":98.87},{"w":828,"n":1.1375,"t":99.22},{"w":828,"n":1.1625,"t":99.47},{"w":828,"n":1.1875,"t":99.64},{"w":828,"n":1.2125,"t":99.71},{"w":828,"n":1.2375,"t":99.71},{"w":828,"n":1.2625,"t":99.64},{"w":828,"n":1.2875,"t":99.49},{"w":828,"n":1.3125,"t":99.28},{"w":828,"n":1.3375,"t":99.01},{"w":828,"n":1.3625,"t":98.67},{"w":828,"n":1.3875,"t":98.29},{"w":828,"n":1.4125,"t":97.86},{"w":828,"n":1.4375,"t":97.38},{"w":828,"n":1.4625,"t":96.85},{"w":828,"n":1.4875,"t":96.29},
{"w":836,"n":1.0125,"t":96.41},{"w":836,"n":1.0375,"t":97.15},{"w":836,"n":1.0625,"t":97.79},{"w":836,"n":1.0875,"t":98.31},{"w":836,"n":1.1125,"t":98.74},{"w":836,"n":1.1375,"t":99.08},{"w":836,"n":1.1625,"t":99.32},{"w":836,"n":1.1875,"t":99.48},{"w":836,"n":1.2125,"t":99.55},{"w":836,"n":1.2375,"t":99.55},{"w":836,"n":1.2625,"t":99.48},{"w":836,"n":1.2875,"t":99.34},{"w":836,"n":1.3125,"t":99.14},{"w":836,"n":1.3375,"t":98.87},{"w":836,"n":1.3625,"t":98.56},{"w":836,"n":1.3875,"t":98.19},{"w":836,"n":1.4125,"t":97.77},{"w":836,"n":1.4375,"t":97.32},{"w":836,"n":1.4625,"t":96.82},{"w":836,"n":1.4875,"t":96.28},
{"w":844,"n":1.0125,"t":96.39},{"w":844,"n":1.0375,"t":97.09},{"w":844,"n":1.0625,"t":97.69},{"w":844,"n":1.0875,"t":98.19},{"w":844,"n":1.1125,"t":98.6},{"w":844,"n":1.1375,"t":98.91},{"w":844,"n":1.1625,"t":99.14},{"w":844,"n":1.1875,"t":99.29},{"w":844,"n":1.2125,"t":99.36},{"w":844,"n":1.2375,"t":99.36},{"w":844,"n":1.2625,"t":99.29},{"w":844,"n":1.2875,"t":99.16},{"w":844,"n":1.3125,"t":98.97},{"w":844,"n":1.3375,"t":98.72},{"w":844,"n":1.3625,"t":98.42},{"w":844,"n":1.3875,"t":98.07},{"w":844,"n":1.4125,"t":97.68},{"w":844,"n":1.4375,"t":97.24},{"w":844,"n":1.4625,"t":96.77},{"w":844,"n":1.4875,"t":96.27},
{"w":852,"n":1.0125,"t":96.37},{"w":852,"n":1.0375,"t":97.02},{"w":852,"n":1.0625,"t":97.58},{"w":852,"n":1.0875,"t":98.05},{"w":852,"n":1.1125,"t":98.43},{"w":852,"n":1.1375,"t":98.72},{"w":852,"n":1.1625,"t":98.93},{"w":852,"n":1.1875,"t":99.07},{"w":852,"n":1.2125,"t":99.14},{"w":852,"n":1.2375,"t":99.14},{"w":852,"n":1.2625,"t":99.08},{"w":852,"n":1.2875,"t":98.95},{"w":852,"n":1.3125,"t":98.77},{"w":852,"n":1.3375,"t":98.54},{"w":852,"n":1.3625,"t":98.26},{"w":852,"n":1.3875,"t":97.94},{"w":852,"n":1.4125,"t":97.57},{"w":852,"n":1.4375,"t":97.16},{"w":852,"n":1.4625,"t":96.72},{"w":852,"n":1.4875,"t":96.25},
{"w":860,"n":1.0125,"t":96.34},{"w":860,"n":1.0375,"t":96.95},{"w":860,"n":1.0625,"t":97.46},{"w":860,"n":1.0875,"t":97.9},{"w":860,"n":1.1125,"t":98.25},{"w":860,"n":1.1375,"t":98.52},{"w":860,"n":1.1625,"t":98.72},{"w":860,"n":1.1875,"t":98.85},{"w":860,"n":1.2125,"t":98.91},{"w":860,"n":1.2375,"t":98.91},{"w":860,"n":1.2625,"t":98.85},{"w":860,"n":1.2875,"t":98.73},{"w":860,"n":1.3125,"t":98.57},{"w":860,"n":1.3375,"t":98.35},{"w":860,"n":1.3625,"t":98.09},{"w":860,"n":1.3875,"t":97.79},{"w":860,"n":1.4125,"t":97.45},{"w":860,"n":1.4375,"t":97.08},{"w":860,"n":1.4625,"t":96.67},{"w":860,"n":1.4875,"t":96.23},
{"w":868,"n":1.0125,"t":96.31},{"w":868,"n":1.0375,"t":96.87},{"w":868,"n":1.0625,"t":97.34},{"w":868,"n":1.0875,"t":97.73},{"w":868,"n":1.1125,"t":98.06},{"w":868,"n":1.1375,"t":98.31},{"w":868,"n":1.1625,"t":98.49},{"w":868,"n":1.1875,"t":98.6},{"w":868,"n":1.2125,"t":98.66},{"w":868,"n":1.2375,"t":98.66},{"w":868,"n":1.2625,"t":98.61},{"w":868,"n":1.2875,"t":98.5},{"w":868,"n":1.3125,"t":98.35},{"w":868,"n":1.3375,"t":98.15},{"w":868,"n":1.3625,"t":97.92},{"w":868,"n":1.3875,"t":97.64},{"w":868,"n":1.4125,"t":97.33},{"w":868,"n":1.4375,"t":96.99},{"w":868,"n":1.4625,"t":96.61},{"w":868,"n":1.4875,"t":96.21},
{"w":876,"n":1.0125,"t":96.28},{"w":876,"n":1.0375,"t":96.78},{"w":876,"n":1.0625,"t":97.21},{"w":876,"n":1.0875,"t":97.57},{"w":876,"n":1.1125,"t":97.86},{"w":876,"n":1.1375,"t":98.08},{"w":876,"n":1.1625,"t":98.25},{"w":876,"n":1.1875,"t":98.35},{"w":876,"n":1.2125,"t":98.41},{"w":876,"n":1.2375,"t":98.41},{"w":876,"n":1.2625,"t":98.36},{"w":876,"n":1.2875,"t":98.26},{"w":876,"n":1.3125,"t":98.12},{"w":876,"n":1.3375,"t":97.95},{"w":876,"n":1.3625,"t":97.73},{"w":876,"n":1.3875,"t":97.48},{"w":876,"n":1.4125,"t":97.2},{"w":876,"n":1.4375,"t":96.89},{"w":876,"n":1.4625,"t":96.55},{"w":876,"n":1.4875,"t":96.19},
{"w":884,"n":1.0125,"t":96.25},{"w":884,"n":1.0375,"t":96.7},{"w":884,"n":1.0625,"t":97.08},{"w":884,"n":1.0875,"t":97.4},{"w":884,"n":1.1125,"t":97.66},{"w":884,"n":1.1375,"t":97.86},{"w":884,"n":1.1625,"t":98.01},{"w":884,"n":1.1875,"t":98.1},{"w":884,"n":1.2125,"t":98.15},{"w":884,"n":1.2375,"t":98.15},{"w":884,"n":1.2625,"t":98.11},{"w":884,"n":1.2875,"t":98.02},{"w":884,"n":1.3125,"t":97.9},{"w":884,"n":1.3375,"t":97.74},{"w":884,"n":1.3625,"t":97.55},{"w":884,"n":1.3875,"t":97.33},{"w":884,"n":1.4125,"t":97.07},{"w":884,"n":1.4375,"t":96.8},{"w":884,"n":1.4625,"t":96.49},{"w":884,"n":1.4875,"t":96.17},
{"w":892,"n":1.0125,"t":96.22},{"w":892,"n":1.0375,"t":96.62},{"w":892,"n":1.0625,"t":96.95},{"w":892,"n":1.0875,"t":97.24},{"w":892,"n":1.1125,"t":97.46},{"w":892,"n":1.1375,"t":97.64},{"w":892,"n":1.1625,"t":97.77},{"w":892,"n":1.1875,"t":97.85},{"w":892,"n":1.2125,"t":97.9},{"w":892,"n":1.2375,"t":97.89},{"w":892,"n":1.2625,"t":97.86},{"w":892,"n":1.2875,"t":97.78},{"w":892,"n":1.3125,"t":97.67},{"w":892,"n":1.3375,"t":97.53},{"w":892,"n":1.3625,"t":97.36},{"w":892,"n":1.3875,"t":97.17},{"w":892,"n":1.4125,"t":96.95},{"w":892,"n":1.4375,"t":96.7},{"w":892,"n":1.4625,"t":96.44},{"w":892,"n":1.4875,"t":96.15},
{"w":900,"n":1.0125,"t":96.19},{"w":900,"n":1.0375,"t":96.54},{"w":900,"n":1.0625,"t":96.83},{"w":900,"n":1.0875,"t":97.07},{"w":900,"n":1.1125,"t":97.27},{"w":900,"n":1.1375,"t":97.43},{"w":900,"n":1.1625,"t":97.54},{"w":900,"n":1.1875,"t":97.61},{"w":900,"n":1.2125,"t":97.65},{"w":900,"n":1.2375,"t":97.65},{"w":900,"n":1.2625,"t":97.61},{"w":900,"n":1.2875,"t":97.55},{"w":900,"n":1.3125,"t":97.45},{"w":900,"n":1.3375,"t":97.33},{"w":900,"n":1.3625,"t":97.19},{"w":900,"n":1.3875,"t":97.02},{"w":900,"n":1.4125,"t":96.82},{"w":900,"n":1.4375,"t":96.61},{"w":900,"n":1.4625,"t":96.38},{"w":900,"n":1.4875,"t":96.13},
{"w":908,"n":1.0125,"t":96.16},{"w":908,"n":1.0375,"t":96.46},{"w":908,"n":1.0625,"t":96.71},{"w":908,"n":1.0875,"t":96.92},{"w":908,"n":1.1125,"t":97.09},{"w":908,"n":1.1375,"t":97.22},{"w":908,"n":1.1625,"t":97.32},{"w":908,"n":1.1875,"t":97.38},{"w":908,"n":1.2125,"t":97.41},{"w":908,"n":1.2375,"t":97.41},{"w":908,"n":1.2625,"t":97.38},{"w":908,"n":1.2875,"t":97.32},{"w":908,"n":1.3125,"t":97.24},{"w":908,"n":1.3375,"t":97.14},{"w":908,"n":1.3625,"t":97.01},{"w":908,"n":1.3875,"t":96.87},{"w":908,"n":1.4125,"t":96.7},{"w":908,"n":1.4375,"t":96.52},{"w":908,"n":1.4625,"t":96.32},{"w":908,"n":1.4875,"t":96.11},
{"w":916,"n":1.0125,"t":96.14},{"w":916,"n":1.0375,"t":96.39},{"w":916,"n":1.0625,"t":96.6},{"w":916,"n":1.0875,"t":96.77},{"w":916,"n":1.1125,"t":96.92},{"w":916,"n":1.1375,"t":97.03},{"w":916,"n":1.1625,"t":97.11},{"w":916,"n":1.1875,"t":97.16},{"w":916,"n":1.2125,"t":97.19},{"w":916,"n":1.2375,"t":97.18},{"w":916,"n":1.2625,"t":97.16},{"w":916,"n":1.2875,"t":97.11},{"w":916,"n":1.3125,"t":97.05},{"w":916,"n":1.3375,"t":96.96},{"w":916,"n":1.3625,"t":96.85},{"w":916,"n":1.3875,"t":96.73},{"w":916,"n":1.4125,"t":96.59},{"w":916,"n":1.4375,"t":96.44},{"w":916,"n":1.4625,"t":96.27},{"w":916,"n":1.4875,"t":96.09},
{"w":924,"n":1.0125,"t":96.11},{"w":924,"n":1.0375,"t":96.32},{"w":924,"n":1.0625,"t":96.49},{"w":924,"n":1.0875,"t":96.63},{"w":924,"n":1.1125,"t":96.75},{"w":924,"n":1.1375,"t":96.84},{"w":924,"n":1.1625,"t":96.91},{"w":924,"n":1.1875,"t":96.95},{"w":924,"n":1.2125,"t":96.97},{"w":924,"n":1.2375,"t":96.97},{"w":924,"n":1.2625,"t":96.95},{"w":924,"n":1.2875,"t":96.92},{"w":924,"n":1.3125,"t":96.86},{"w":924,"n":1.3375,"t":96.79},{"w":924,"n":1.3625,"t":96.7},{"w":924,"n":1.3875,"t":96.6},{"w":924,"n":1.4125,"t":96.49},{"w":924,"n":1.4375,"t":96.36},{"w":924,"n":1.4625,"t":96.22},{"w":924,"n":1.4875,"t":96.08},
{"w":932,"n":1.0125,"t":96.09},{"w":932,"n":1.0375,"t":96.25},{"w":932,"n":1.0625,"t":96.39},{"w":932,"n":1.0875,"t":96.51},{"w":932,"n":1.1125,"t":96.6},{"w":932,"n":1.1375,"t":96.68},{"w":932,"n":1.1625,"t":96.73},{"w":932,"n":1.1875,"t":96.77},{"w":932,"n":1.2125,"t":96.78},{"w":932,"n":1.2375,"t":96.78},{"w":932,"n":1.2625,"t":96.77},{"w":932,"n":1.2875,"t":96.74},{"w":932,"n":1.3125,"t":96.69},{"w":932,"n":1.3375,"t":96.63},{"w":932,"n":1.3625,"t":96.56},{"w":932,"n":1.3875,"t":96.48},{"w":932,"n":1.4125,"t":96.39},{"w":932,"n":1.4375,"t":96.29},{"w":932,"n":1.4625,"t":96.18},{"w":932,"n":1.4875,"t":96.06},
{"w":940,"n":1.0125,"t":96.07},{"w":940,"n":1.0375,"t":96.2},{"w":940,"n":1.0625,"t":96.31},{"w":940,"n":1.0875,"t":96.4},{"w":940,"n":1.1125,"t":96.47},{"w":940,"n":1.1375,"t":96.53},{"w":940,"n":1.1625,"t":96.57},{"w":940,"n":1.1875,"t":96.59},{"w":940,"n":1.2125,"t":96.61},{"w":940,"n":1.2375,"t":96.61},{"w":940,"n":1.2625,"t":96.59},{"w":940,"n":1.2875,"t":96.57},{"w":940,"n":1.3125,"t":96.54},{"w":940,"n":1.3375,"t":96.49},{"w":940,"n":1.3625,"t":96.44},{"w":940,"n":1.3875,"t":96.37},{"w":940,"n":1.4125,"t":96.3},{"w":940,"n":1.4375,"t":96.22},{"w":940,"n":1.4625,"t":96.14},{"w":940,"n":1.4875,"t":96.05},
{"w":948,"n":1.0125,"t":96.05},{"w":948,"n":1.0375,"t":96.15},{"w":948,"n":1.0625,"t":96.23},{"w":948,"n":1.0875,"t":96.3},{"w":948,"n":1.1125,"t":96.35},{"w":948,"n":1.1375,"t":96.39},{"w":948,"n":1.1625,"t":96.42},{"w":948,"n":1.1875,"t":96.45},{"w":948,"n":1.2125,"t":96.45},{"w":948,"n":1.2375,"t":96.45},{"w":948,"n":1.2625,"t":96.45},{"w":948,"n":1.2875,"t":96.43},{"w":948,"n":1.3125,"t":96.4},{"w":948,"n":1.3375,"t":96.37},{"w":948,"n":1.3625,"t":96.33},{"w":948,"n":1.3875,"t":96.28},{"w":948,"n":1.4125,"t":96.23},{"w":948,"n":1.4375,"t":96.17},{"w":948,"n":1.4625,"t":96.1},{"w":948,"n":1.4875,"t":96.04},
{"w":956,"n":1.0125,"t":96.04},{"w":956,"n":1.0375,"t":96.11},{"w":956,"n":1.0625,"t":96.16},{"w":956,"n":1.0875,"t":96.21},{"w":956,"n":1.1125,"t":96.25},{"w":956,"n":1.1375,"t":96.28},{"w":956,"n":1.1625,"t":96.3},{"w":956,"n":1.1875,"t":96.32},{"w":956,"n":1.2125,"t":96.32},{"w":956,"n":1.2375,"t":96.32},{"w":956,"n":1.2625,"t":96.32},{"w":956,"n":1.2875,"t":96.3},{"w":956,"n":1.3125,"t":96.29},{"w":956,"n":1.3375,"t":96.26},{"w":956,"n":1.3625,"t":96.23},{"w":956,"n":1.3875,"t":96.2},{"w":956,"n":1.4125,"t":96.16},{"w":956,"n":1.4375,"t":96.12},{"w":956,"n":1.4625,"t":96.07},{"w":956,"n":1.4875,"t":96.03},
{"w":964,"n":1.0125,"t":96.03},{"w":964,"n":1.0375,"t":96.07},{"w":964,"n":1.0625,"t":96.11},{"w":964,"n":1.0875,"t":96.14},{"w":964,"n":1.1125,"t":96.17},{"w":964,"n":1.1375,"t":96.19},{"w":964,"n":1.1625,"t":96.2},{"w":964,"n":1.1875,"t":96.21},{"w":964,"n":1.2125,"t":96.22},{"w":964,"n":1.2375,"t":96.22},{"w":964,"n":1.2625,"t":96.21},{"w":964,"n":1.2875,"t":96.2},{"w":964,"n":1.3125,"t":96.19},{"w":964,"n":1.3375,"t":96.17},{"w":964,"n":1.3625,"t":96.16},{"w":964,"n":1.3875,"t":96.13},{"w":964,"n":1.4125,"t":96.11},{"w":964,"n":1.4375,"t":96.08},{"w":964,"n":1.4625,"t":96.05},{"w":964,"n":1.4875,"t":96.02},
{"w":972,"n":1.0125,"t":96.01},{"w":972,"n":1.0375,"t":96.04},{"w":972,"n":1.0625,"t":96.06},{"w":972,"n":1.0875,"t":96.08},{"w":972,"n":1.1125,"t":96.1},{"w":972,"n":1.1375,"t":96.11},{"w":972,"n":1.1625,"t":96.12},{"w":972,"n":1.1875,"t":96.12},{"w":972,"n":1.2125,"t":96.13},{"w":972,"n":1.2375,"t":96.13},{"w":972,"n":1.2625,"t":96.13},{"w":972,"n":1.2875,"t":96.12},{"w":972,"n":1.3125,"t":96.11},{"w":972,"n":1.3375,"t":96.1},{"w":972,"n":1.3625,"t":96.09},{"w":972,"n":1.3875,"t":96.08},{"w":972,"n":1.4125,"t":96.06},{"w":972,"n":1.4375,"t":96.05},{"w":972,"n":1.4625,"t":96.03},{"w":972,"n":1.4875,"t":96.01},
{"w":980,"n":1.0125,"t":96.01},{"w":980,"n":1.0375,"t":96.02},{"w":980,"n":1.0625,"t":96.03},{"w":980,"n":1.0875,"t":96.04},{"w":980,"n":1.1125,"t":96.05},{"w":980,"n":1.1375,"t":96.06},{"w":980,"n":1.1625,"t":96.06},{"w":980,"n":1.1875,"t":96.06},{"w":980,"n":1.2125,"t":96.06},{"w":980,"n":1.2375,"t":96.06},{"w":980,"n":1.2625,"t":96.06},{"w":980,"n":1.2875,"t":96.06},{"w":980,"n":1.3125,"t":96.06},{"w":980,"n":1.3375,"t":96.05},{"w":980,"n":1.3625,"t":96.05},{"w":980,"n":1.3875,"t":96.04},{"w":980,"n":1.4125,"t":96.03},{"w":980,"n":1.4375,"t":96.02},{"w":980,"n":1.4625,"t":96.01},{"w":980,"n":1.4875,"t":96.01},
{"w":988,"n":1.0125,"t":96},{"w":988,"n":1.0375,"t":96.01},{"w":988,"n":1.0625,"t":96.01},{"w":988,"n":1.0875,"t":96.02},{"w":988,"n":1.1125,"t":96.02},{"w":988,"n":1.1375,"t":96.02},{"w":988,"n":1.1625,"t":96.02},{"w":988,"n":1.1875,"t":96.02},{"w":988,"n":1.2125,"t":96.02},{"w":988,"n":1.2375,"t":96.02},{"w":988,"n":1.2625,"t":96.02},{"w":988,"n":1.2875,"t":96.02},{"w":988,"n":1.3125,"t":96.02},{"w":988,"n":1.3375,"t":96.02},{"w":988,"n":1.3625,"t":96.02},{"w":988,"n":1.3875,"t":96.01},{"w":988,"n":1.4125,"t":96.01},{"w":988,"n":1.4375,"t":96.01},{"w":988,"n":1.4625,"t":96.01},{"w":988,"n":1.4875,"t":96},
{"w":996,"n":1.0125,"t":96},{"w":996,"n":1.0375,"t":96},{"w":996,"n":1.0625,"t":96},{"w":996,"n":1.0875,"t":96},{"w":996,"n":1.1125,"t":96},{"w":996,"n":1.1375,"t":96},{"w":996,"n":1.1625,"t":96},{"w":996,"n":1.1875,"t":96},{"w":996,"n":1.2125,"t":96},{"w":996,"n":1.2375,"t":96},{"w":996,"n":1.2625,"t":96},{"w":996,"n":1.2875,"t":96},{"w":996,"n":1.3125,"t":96},{"w":996,"n":1.3375,"t":96},{"w":996,"n":1.3625,"t":96},{"w":996,"n":1.3875,"t":96},{"w":996,"n":1.4125,"t":96},{"w":996,"n":1.4375,"t":96},{"w":996,"n":1.4625,"t":96},{"w":996,"n":1.4875,"t":96}
]},"mark":{"type":"rect","width":11.6,"height":33.3,"clip":true},"encoding":{"x":{"field":"w","type":"quantitative","scale":{"domain":[400,1000],"nice":false,"zero":false},"axis":{"title":"Wavelength (nm)","values":[400,500,600,700,800,900,1000],"format":"d","labelFlush":false,"labelPadding":6,"titlePadding":7}},"y":{"field":"n","type":"quantitative","scale":{"domain":[1,1.5],"nice":false,"zero":false},"axis":{"title":"Refractive index nⱼ","values":[1,1.1,1.2,1.3,1.4,1.5],"format":".1f","labelFlush":false,"labelPadding":6,"titlePadding":7}},"color":{"field":"t","type":"quantitative","legend":null,"scale":{"interpolate":"rgb","domain":[96,96.2857,96.5714,96.8571,97.1429,97.4286,97.7143,98,98.2857,98.5714,98.8571,99.1429,99.4286,99.7143,100],"range":["#30123b","#4145ab","#4675ed","#39a2fc","#1bcfd4","#24eca6","#61fc6c","#a4fc3b","#d1e834","#f3c63a","#fe9b2d","#f36315","#d93806","#b11901","#7a0402"]}}}},{"width":33,"height":655,"data":{"values":[{"t":96.02},{"t":96.06},{"t":96.1},{"t":96.14},{"t":96.18},{"t":96.22},{"t":96.26},{"t":96.3},{"t":96.34},{"t":96.38},{"t":96.42},{"t":96.46},{"t":96.5},{"t":96.54},{"t":96.58},{"t":96.62},{"t":96.66},{"t":96.7},{"t":96.74},{"t":96.78},{"t":96.82},{"t":96.86},{"t":96.9},{"t":96.94},{"t":96.98},{"t":97.02},{"t":97.06},{"t":97.1},{"t":97.14},{"t":97.18},{"t":97.22},{"t":97.26},{"t":97.3},{"t":97.34},{"t":97.38},{"t":97.42},{"t":97.46},{"t":97.5},{"t":97.54},{"t":97.58},{"t":97.62},{"t":97.66},{"t":97.7},{"t":97.74},{"t":97.78},{"t":97.82},{"t":97.86},{"t":97.9},{"t":97.94},{"t":97.98},{"t":98.02},{"t":98.06},{"t":98.1},{"t":98.14},{"t":98.18},{"t":98.22},{"t":98.26},{"t":98.3},{"t":98.34},{"t":98.38},{"t":98.42},{"t":98.46},{"t":98.5},{"t":98.54},{"t":98.58},{"t":98.62},{"t":98.66},{"t":98.7},{"t":98.74},{"t":98.78},{"t":98.82},{"t":98.86},{"t":98.9},{"t":98.94},{"t":98.98},{"t":99.02},{"t":99.06},{"t":99.1},{"t":99.14},{"t":99.18},{"t":99.22},{"t":99.26},{"t":99.3},{"t":99.34},{"t":99.38},{"t":99.42},{"t":99.46},{"t":99.5},{"t":99.54},{"t":99.58},{"t":99.62},{"t":99.66},{"t":99.7},{"t":99.74},{"t":99.78},{"t":99.82},{"t":99.86},{"t":99.9},{"t":99.94},{"t":99.98}]},"mark":{"type":"rect","height":7.2,"clip":true},"encoding":{"y":{"field":"t","type":"quantitative","scale":{"domain":[96,100],"nice":false,"zero":false},"axis":{"orient":"right","title":"Transmittance T (%)","titleAngle":270,"values":[96,96.5,97,97.5,98,98.5,99,99.5],"format":".1f","labelFlush":false,"labelPadding":5,"titlePadding":23}},"color":{"field":"t","type":"quantitative","legend":null,"scale":{"interpolate":"rgb","domain":[96,96.2857,96.5714,96.8571,97.1429,97.4286,97.7143,98,98.2857,98.5714,98.8571,99.1429,99.4286,99.7143,100],"range":["#30123b","#4145ab","#4675ed","#39a2fc","#1bcfd4","#24eca6","#61fc6c","#a4fc3b","#d1e834","#f3c63a","#fe9b2d","#f36315","#d93806","#b11901","#7a0402"]}}}}]}
